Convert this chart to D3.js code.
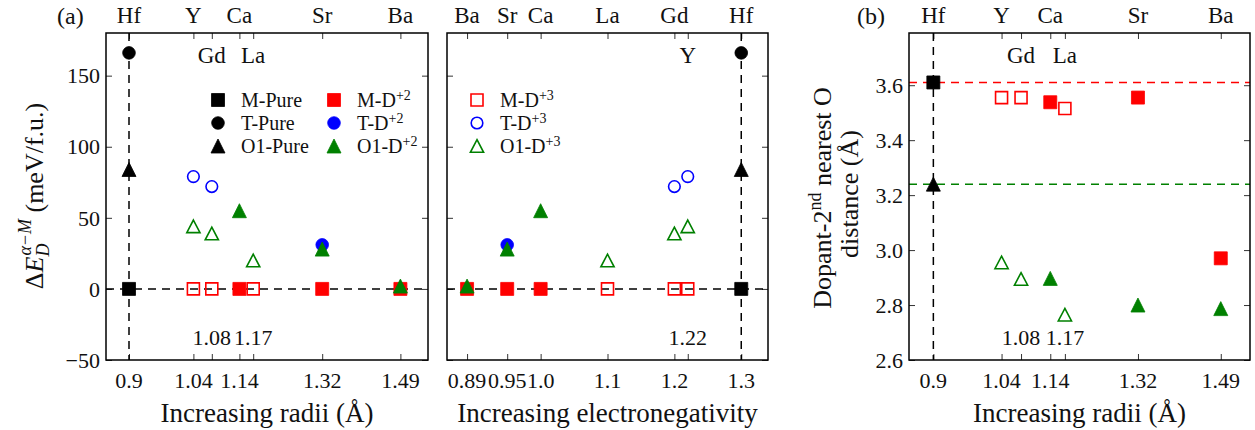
<!DOCTYPE html>
<html>
<head>
<meta charset="utf-8">
<script src="https://cdn.jsdelivr.net/npm/d3@7"></script>
<style>
  body { margin: 0; background: #fff; }
  svg text { font-family: "Liberation Serif", "Times New Roman", serif; fill: #111; }
</style>
</head>
<body>
<div id="chart"></div>
<script>
// --- Data (order: Hf, Y, Gd, Ca, La, Sr, Ba) ---
const elements = ["Hf", "Y", "Gd", "Ca", "La", "Sr", "Ba"];
const charge = ["pure", "+3", "+3", "+2", "+3", "+2", "+2"];
const radii = [0.9, 1.04, 1.08, 1.14, 1.17, 1.32, 1.49];
const radiiText = ["0.9", "1.04", "1.08", "1.14", "1.17", "1.32", "1.49"];
const electroneg = [1.3, 1.22, 1.2, 1.0, 1.1, 0.95, 0.89];
const electroText = ["1.3", "1.22", "1.2", "1.0", "1.1", "0.95", "0.89"];
const insideRadii = ["Gd", "La"];
const insideElectro = ["Y"];

// relative energies (meV/f.u.)
const energyM = [0, 0, 0, 0, 0, 0, 0];
const energyT = [166, 79, 72, null, null, 31, null];
const energyO1 = [84, 44, 39, 55, 20, 28, 2];

// dopant - 2nd nearest O distance (Å)
const distM = [3.61, 3.555, 3.555, 3.538, 3.515, 3.555, 2.97];
const distO1 = [3.24, 2.955, 2.895, 2.897, 2.765, 2.80, 2.787];

const energyTicks = [-50, 0, 50, 100, 150];
const distTicks = [2.6, 2.8, 3.0, 3.2, 3.4, 3.6];

const W = 1255, H = 430;
const svg = d3.select("#chart").append("svg")
  .attr("width", W).attr("height", H);

const phaseColor = { M: "#ff0000", T: "#0000ff", O1: "#008000" };
const phaseShape = { M: "square", T: "circle", O1: "triangle" };

function markerPath(shape, open) {
  if (shape === "square") return open ? "M-6,-6H6V6H-6Z" : "M-6.5,-6.5H6.5V6.5H-6.5Z";
  if (shape === "circle") {
    const r = open ? 5.8 : 6.3;
    return `M${r},0A${r},${r} 0 1,1 ${-r},0A${r},${r} 0 1,1 ${r},0Z`;
  }
  return open ? "M0,-6.3L6.6,6.3H-6.6Z" : "M0,-7L7,7H-7Z";
}

function drawMarker(g, x, y, phase, ch) {
  const col = ch === "pure" ? "#000" : phaseColor[phase];
  const open = ch === "+3";
  g.append("path")
    .attr("d", markerPath(phaseShape[phase], open))
    .attr("transform", `translate(${x},${y})`)
    .attr("fill", open ? "none" : col)
    .attr("stroke", col)
    .attr("stroke-width", open ? 1.6 : 0.8);
}

// panel geometry
const yTop = 33, yBottom = 360;
const panels = [
  { id: "radE", x0: 106, x1: 428, xdom: [0.85, 1.55], xs: radii, xt: radiiText, inside: insideRadii,
    ydom: [-50, 180], yTicks: energyTicks, yLabels: true, title: "Increasing radii (Å)" },
  { id: "eneg", x0: 447, x1: 768, xdom: [0.86, 1.34], xs: electroneg, xt: electroText, inside: insideElectro,
    ydom: [-50, 180], yTicks: energyTicks, yLabels: false, title: "Increasing electronegativity" },
  { id: "dist", x0: 909, x1: 1250, xdom: [0.85, 1.55], xs: radii, xt: radiiText, inside: insideRadii,
    ydom: [2.6, 3.79], yTicks: distTicks, yLabels: true, title: "Increasing radii (Å)" }
];

panels.forEach(p => {
  p.x = d3.scaleLinear().domain(p.xdom).range([p.x0, p.x1]);
  p.y = d3.scaleLinear().domain(p.ydom).range([yBottom, yTop]);
  const g = svg.append("g");
  p.g = g;

  // inward ticks
  const tickStyle = a => a.call(s => s.select(".domain").remove())
    .call(s => s.selectAll(".tick line").attr("stroke", "#333").attr("stroke-width", 1))
    .call(s => s.selectAll(".tick text").remove());
  g.append("g").attr("transform", `translate(0,${yBottom})`)
    .call(d3.axisBottom(p.x).tickValues(p.xs).tickSize(-6)).call(tickStyle);
  g.append("g").attr("transform", `translate(0,${yTop})`)
    .call(d3.axisTop(p.x).tickValues(p.xs).tickSize(-6)).call(tickStyle);
  g.append("g").attr("transform", `translate(${p.x0},0)`)
    .call(d3.axisLeft(p.y).tickValues(p.yTicks).tickSize(-6)).call(tickStyle);
  g.append("g").attr("transform", `translate(${p.x1},0)`)
    .call(d3.axisRight(p.y).tickValues(p.yTicks).tickSize(-6)).call(tickStyle);

  // x tick labels (bottom) and element labels (top)
  p.xs.forEach((v, i) => {
    const inside = p.inside.includes(elements[i]);
    g.append("text")
      .attr("x", p.x(v)).attr("y", inside ? 345 : 388)
      .attr("text-anchor", "middle").attr("font-size", 22)
      .text(p.xt[i]);
    g.append("text")
      .attr("x", p.x(v)).attr("y", inside ? 63 : 23)
      .attr("text-anchor", "middle").attr("font-size", 23)
      .text(elements[i]);
  });

  if (p.yLabels) {
    p.yTicks.forEach(v => {
      g.append("text")
        .attr("x", p.x0 - 6).attr("y", p.y(v))
        .attr("dy", "0.35em")
        .attr("text-anchor", "end").attr("font-size", 22)
        .text(p.id === "dist" ? d3.format(".1f")(v) : String(v).replace("-", "\u2212"));
    });
  }

  g.append("text")
    .attr("x", (p.x0 + p.x1) / 2).attr("y", 422)
    .attr("text-anchor", "middle").attr("font-size", 27)
    .text(p.title);
});

const dash = "8,6";

// --- energy panels ---
[panels[0], panels[1]].forEach(p => {
  const g = p.g;
  const hf = p.xs[0];
  g.append("line").attr("x1", p.x0).attr("x2", p.x1)
    .attr("y1", p.y(0)).attr("y2", p.y(0))
    .attr("stroke", "#000").attr("stroke-width", 1.5).attr("stroke-dasharray", dash);
  g.append("line").attr("x1", p.x(hf)).attr("x2", p.x(hf))
    .attr("y1", yTop).attr("y2", yBottom)
    .attr("stroke", "#000").attr("stroke-width", 1.5).attr("stroke-dasharray", dash);

  elements.forEach((el, i) => {
    if (energyM[i] != null) drawMarker(g, p.x(p.xs[i]), p.y(energyM[i]), "M", charge[i]);
  });
  elements.forEach((el, i) => {
    if (energyT[i] != null) drawMarker(g, p.x(p.xs[i]), p.y(energyT[i]), "T", charge[i]);
  });
  elements.forEach((el, i) => {
    if (energyO1[i] != null) drawMarker(g, p.x(p.xs[i]), p.y(energyO1[i]), "O1", charge[i]);
  });
});

// --- distance panel ---
{
  const p = panels[2], g = p.g;
  g.append("line").attr("x1", p.x0).attr("x2", p.x1)
    .attr("y1", p.y(distM[0])).attr("y2", p.y(distM[0]))
    .attr("stroke", "#ff0000").attr("stroke-width", 1.5).attr("stroke-dasharray", dash);
  g.append("line").attr("x1", p.x0).attr("x2", p.x1)
    .attr("y1", p.y(distO1[0])).attr("y2", p.y(distO1[0]))
    .attr("stroke", "#008000").attr("stroke-width", 1.5).attr("stroke-dasharray", dash);
  g.append("line").attr("x1", p.x(radii[0])).attr("x2", p.x(radii[0]))
    .attr("y1", yTop).attr("y2", yBottom)
    .attr("stroke", "#000").attr("stroke-width", 1.5).attr("stroke-dasharray", dash);
  elements.forEach((el, i) => drawMarker(g, p.x(radii[i]), p.y(distM[i]), "M", charge[i]));
  elements.forEach((el, i) => drawMarker(g, p.x(radii[i]), p.y(distO1[i]), "O1", charge[i]));
}

// frames
panels.forEach(p => {
  p.g.append("rect").attr("x", p.x0).attr("y", yTop)
    .attr("width", p.x1 - p.x0).attr("height", yBottom - yTop)
    .attr("fill", "none").attr("stroke", "#000").attr("stroke-width", 1.5);
});

// --- legends ---
function legendItem(g, x, y, phase, ch, label, sup) {
  drawMarker(g, x, y, phase, ch);
  const t = g.append("text").attr("x", x + 23).attr("y", y).attr("dy", "0.35em").attr("font-size", 20);
  t.append("tspan").text(label);
  if (sup) t.append("tspan").attr("font-size", 14).attr("dy", -7).text(sup);
}
const lg1 = svg.append("g");
legendItem(lg1, 218, 100, "M", "pure", "M-Pure");
legendItem(lg1, 218, 123, "T", "pure", "T-Pure");
legendItem(lg1, 218, 146, "O1", "pure", "O1-Pure");
legendItem(lg1, 334, 100, "M", "+2", "M-D", "+2");
legendItem(lg1, 334, 123, "T", "+2", "T-D", "+2");
legendItem(lg1, 334, 146, "O1", "+2", "O1-D", "+2");
const lg2 = svg.append("g");
legendItem(lg2, 477, 100, "M", "+3", "M-D", "+3");
legendItem(lg2, 477, 123, "T", "+3", "T-D", "+3");
legendItem(lg2, 477, 146, "O1", "+3", "O1-D", "+3");

// panel letters
svg.append("text").attr("x", 57).attr("y", 24).attr("font-size", 24).text("(a)");
svg.append("text").attr("x", 857).attr("y", 24).attr("font-size", 24).text("(b)");

// y axis titles
const yl1 = svg.append("text")
  .attr("transform", "translate(43,196) rotate(-90)")
  .attr("text-anchor", "middle").attr("font-size", 26);
yl1.append("tspan").text("\u0394");
yl1.append("tspan").attr("font-style", "italic").text("E");
yl1.append("tspan").attr("font-style", "italic").attr("font-size", 18).attr("dy", 6).text("D");
yl1.append("tspan").attr("font-style", "italic").attr("font-size", 18).attr("dx", -12).attr("dy", -18).text("\u03b1\u2212M");
yl1.append("tspan").attr("dy", 12).text(" (meV/f.u.)");

const yl2 = svg.append("text")
  .attr("transform", "translate(831,198) rotate(-90)")
  .attr("text-anchor", "middle").attr("font-size", 26);
yl2.append("tspan").text("Dopant-2");
yl2.append("tspan").attr("font-size", 18).attr("dy", -10).text("nd");
yl2.append("tspan").attr("dy", 10).text(" nearest O");
svg.append("text")
  .attr("transform", "translate(858,194) rotate(-90)")
  .attr("text-anchor", "middle").attr("font-size", 26)
  .text("distance (Å)");
</script>
</body>
</html>
